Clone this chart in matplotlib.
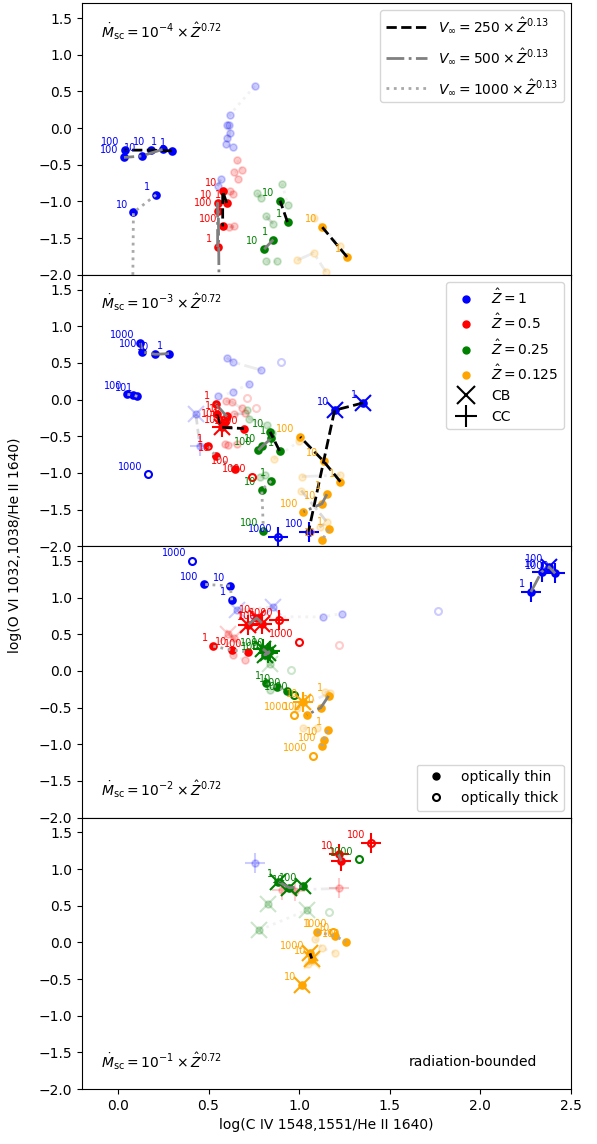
import matplotlib
matplotlib.use('Agg')
import matplotlib.pyplot as plt
from matplotlib.lines import Line2D

z_colors = ['blue', 'red', 'green', 'orange']
z_labels = ['1', '0.5', '0.25', '0.125']
vinf = [250, 500, 1000]
mdot_exp = [-4, -3, -2, -1]
xticks = [0.0, 0.5, 1.0, 1.5, 2.0, 2.5]
yticks = [-2.0, -1.5, -1.0, -0.5, 0.0, 0.5, 1.0, 1.5]

# series: (Z index, V index, faded, [(x, y, label, kind)])
# kind: f = optically thin, e = optically thick, x = CB, + = CC
m4 = [
    (0, 0, 0, [(0.297, -0.31, '1', 'f'), (0.181, -0.30, '10', 'f'), (0.037, -0.30, '100', 'f')]),
    (0, 1, 0, [(0.246, -0.29, '1', 'f'), (0.13, -0.38, '10', 'f'), (0.033, -0.40, '100', 'f')]),
    (0, 2, 0, [(0.21, -0.91, '1', 'f'), (0.085, -1.15, '10', 'f'), (0.08, -2.6, '100', 'f')]),
    (1, 0, 0, [(0.60, -1.02, '1', 'f'), (0.578, -0.86, '10', 'f'), (0.578, -1.34, '100', 'f')]),
    (1, 1, 0, [(0.55, -1.62, '1', 'f'), (0.55, -1.02, '10', 'f'), (0.554, -1.13, '100', 'f'),
               (0.56, -2.6, '1000', 'f')]),
    (2, 0, 0, [(0.936, -1.28, '1', 'f'), (0.895, -0.99, '10', 'f')]),
    (2, 1, 0, [(0.858, -1.52, '1', 'f'), (0.807, -1.65, '10', 'f')]),
    (3, 0, 0, [(1.265, -1.756, '1', 'f'), (1.128, -1.35, '10', 'f')]),
    (0, 2, 1, [(0.755, 0.573, '', 'f'), (0.618, 0.184, '', 'f'), (0.60, 0.047, '', 'f'),
               (0.604, -0.13, '', 'f')]),
    (0, 1, 1, [(0.615, 0.047, '', 'f'), (0.618, -0.067, '', 'f'), (0.596, -0.22, '', 'f'),
               (0.637, -0.258, '', 'f')]),
    (0, 0, 1, [(0.567, -0.70, '', 'f'), (0.55, -0.79, '', 'f')]),
    (1, 2, 1, [(0.659, -0.439, '', 'f'), (0.683, -0.566, '', 'f'), (0.64, -0.60, '', 'f'),
               (0.665, -0.69, '', 'f')]),
    (1, 1, 1, [(0.633, -0.893, '', 'f'), (0.618, -0.86, '', 'f')]),
    (1, 0, 1, [(0.615, -1.35, '', 'f'), (0.642, -1.34, '', 'f')]),
    (2, 2, 1, [(0.906, -0.756, '', 'f'), (0.938, -1.05, '', 'f')]),
    (2, 1, 1, [(0.766, -0.884, '', 'f'), (0.79, -0.95, '', 'f')]),
    (2, 0, 1, [(0.818, -1.20, '', 'f'), (0.858, -1.31, '', 'f')]),
    (2, 2, 1, [(0.818, -1.81, '', 'f'), (0.88, -1.81, '', 'f')]),
    (3, 2, 1, [(1.084, -1.22, '', 'f'), (1.224, -1.60, '', 'f')]),
    (3, 1, 1, [(0.991, -1.80, '', 'f'), (1.08, -1.70, '', 'f'), (1.148, -1.96, '', 'f')]),
]

m3 = [
    (0, 1, 0, [(0.282, 0.626, '1', 'f'), (0.205, 0.617, '10', 'f'), (0.135, 0.648, '100', 'f'),
               (0.124, 0.771, '1000', 'f')]),
    (0, 2, 0, [(0.107, 0.045, '1', 'f'), (0.083, 0.058, '10', 'f'), (0.052, 0.072, '100', 'f'),
               (0.163, -1.02, '1000', 'e')]),
    (0, 0, 0, [(1.353, -0.046, '1', 'fx'), (1.196, -0.146, '10', 'fx'), (1.052, -1.80, '100', 'f+'),
               (0.886, -1.87, '1000', 'e+')]),
    (1, 0, 0, [(0.545, -0.20, '1', 'f'), (0.572, -0.38, '10', 'fx+'), (0.696, -0.395, '1000', 'f')]),
    (1, 1, 0, [(0.539, -0.055, '1', 'f'), (0.60, -0.23, '10', 'f'), (0.59, -0.30, '100', 'f')]),
    (1, 2, 0, [(0.498, -0.64, '1', 'f'), (0.539, -0.77, '10', 'f'), (0.646, -0.94, '100', 'f'),
               (0.739, -1.05, '1000', 'e')]),
    (2, 0, 0, [(0.892, -0.70, '1', 'f'), (0.84, -0.44, '10', 'f')]),
    (2, 1, 0, [(0.846, -0.53, '1', 'f'), (0.795, -0.64, '10', 'f'), (0.775, -0.69, '100', 'f')]),
    (2, 2, 0, [(0.846, -1.11, '1', 'f'), (0.794, -1.23, '10', 'f'), (0.803, -1.79, '100', 'f')]),
    (3, 0, 0, [(1.228, -1.12, '1', 'f'), (1.135, -0.84, '10', 'f'), (1.006, -0.51, '100', 'f')]),
    (3, 1, 0, [(1.154, -1.29, '1', 'f'), (1.126, -1.42, '10', 'f'), (1.024, -1.53, '100', 'f')]),
    (3, 2, 0, [(1.163, -1.77, '1', 'f'), (1.126, -1.92, '10', 'f')]),
    (0, 1, 1, [(0.90, 0.51, '', 'e'), (0.792, 0.40, '', 'f'), (0.633, 0.512, '', 'f'), (0.60, 0.572, '', 'f')]),
    (0, 2, 1, [(0.725, 0.218, '', 'f'), (0.633, 0.10, '', 'f'), (0.554, 0.044, '', 'f')]),
    (0, 0, 1, [(0.43, -0.20, '', 'fx'), (0.452, -0.64, '', 'f+')]),
    (1, 1, 1, [(0.595, -0.023, '', 'f'), (0.628, -0.033, '', 'f'), (0.683, -0.12, '', 'f'),
               (0.711, 0.027, '', 'e')]),
    (1, 0, 1, [(0.64, -0.20, '', 'f'), (0.70, -0.19, '', 'f'), (0.761, -0.11, '', 'e')]),
    (1, 2, 1, [(0.59, -0.60, '', 'f'), (0.656, -0.60, '', 'f'), (0.61, -0.62, '', 'f')]),
    (2, 1, 1, [(0.711, -0.146, '', 'f'), (0.725, -0.26, '', 'f'), (0.825, -0.35, '', 'f'),
               (0.85, -0.46, '', 'f')]),
    (2, 2, 1, [(0.785, -1.05, '', 'f'), (0.81, -1.03, '', 'f')]),
    (3, 2, 1, [(0.86, -0.81, '', 'f'), (1.0, -0.57, '', 'f')]),
    (3, 1, 1, [(1.015, -1.05, '', 'f'), (1.228, -1.03, '', 'f')]),
    (3, 0, 1, [(1.012, -1.24, '', 'f'), (1.154, -1.67, '', 'f'), (1.113, -1.74, '', 'f')]),
]

m2 = [
    (0, 2, 0, [(0.628, 0.964, '1', 'f'), (0.62, 1.16, '10', 'f'), (0.476, 1.18, '100', 'f'),
               (0.406, 1.496, '1000', 'e')]),
    (0, 1, 0, [(2.28, 1.078, '1', 'f+'), (2.339, 1.35, '10', 'f+'), (2.38, 1.42, '100', 'fx'),
               (2.414, 1.33, '1000', 'f+')]),
    (1, 1, 0, [(0.72, 0.633, '1', 'fx+'), (0.766, 0.723, '10', 'fx'), (0.797, 0.647, '100', 'fx+'),
               (0.89, 0.69, '1000', 'e+')]),
    (1, 2, 0, [(0.526, 0.338, '1', 'f'), (0.631, 0.283, '10', 'f'), (0.716, 0.26, '100', 'f'),
               (1.0, 0.396, '1000', 'e')]),
    (2, 1, 0, [(0.80, 0.30, '1', 'fx+'), (0.83, 0.24, '10', 'fx+'), (0.81, 0.22, '100', 'fx'),
               (0.84, 0.27, '1000', 'f+')]),
    (2, 2, 0, [(0.818, -0.17, '1', 'f'), (0.877, -0.22, '10', 'f'), (0.932, -0.27, '100', 'f'),
               (0.973, -0.33, '1000', 'e')]),
    (3, 1, 0, [(1.163, -0.34, '1', 'f'), (1.12, -0.50, '10', 'f'), (1.043, -0.60, '100', 'f'),
               (0.973, -0.60, '1000', 'e')]),
    (3, 0, 0, [(1.024, -0.42, '10', 'fx+')]),
    (3, 2, 0, [(1.157, -0.807, '1', 'f'), (1.135, -0.94, '10', 'f'), (1.126, -1.025, '100', 'f'),
               (1.076, -1.16, '1000', 'e')]),
    (0, 1, 1, [(0.655, 0.83, '', 'fx'), (0.858, 0.873, '', 'fx')]),
    (0, 2, 1, [(0.75, 0.74, '', 'f'), (1.13, 0.737, '', 'f'), (1.237, 0.783, '', 'f'), (1.766, 0.818, '', 'e')]),
    (1, 1, 1, [(0.61, 0.51, '', 'fx'), (0.64, 0.45, '', 'fx')]),
    (1, 2, 1, [(0.637, 0.215, '', 'f'), (0.70, 0.147, '', 'f'), (1.222, 0.36, '', 'e')]),
    (2, 1, 1, [(0.84, 0.10, '', 'fx'), (0.955, 0.01, '', 'e')]),
    (2, 2, 1, [(0.84, -0.26, '', 'f')]),
    (3, 1, 1, [(1.141, -0.285, '', 'f'), (1.17, -0.30, '', 'f'), (0.99, -0.50, '', 'f')]),
    (3, 2, 1, [(1.024, -0.78, '', 'f'), (1.10, -0.78, '', 'f')]),
]

m1 = [
    (1, 1, 0, [(1.233, 1.11, '1', 'f+'), (1.218, 1.203, '10', 'f+'), (1.397, 1.36, '100', 'e+')]),
    (2, 1, 0, [(0.886, 0.826, '1', 'fx'), (0.947, 0.744, '10', 'fx'), (1.019, 0.767, '100', 'fx'),
               (1.333, 1.13, '1000', 'e')]),
    (3, 2, 0, [(1.098, 0.144, '1', 'f'), (1.20, 0.086, '10', 'f'), (1.259, 0.008, '100', 'f'),
               (1.187, 0.144, '1000', 'e')]),
    (3, 1, 0, [(1.015, -0.582, '10', 'fx')]),
    (3, 0, 0, [(1.07, -0.22, '10', 'fx'), (1.06, -0.15, '1000', 'fx')]),
    (0, 1, 1, [(0.757, 1.084, '', 'f+')]),
    (1, 1, 1, [(1.218, 0.735, '', 'f+'), (0.905, 0.712, '', 'f+'), (0.98, 0.70, '', 'f+')]),
    (2, 2, 1, [(0.781, 0.167, '', 'fx'), (1.043, 0.44, '', 'fx')]),
    (2, 1, 1, [(0.827, 0.518, '', 'fx'), (1.167, 0.417, '', 'e')]),
    (3, 2, 1, [(1.09, 0.05, '', 'f'), (1.126, -0.08, '', 'f'), (1.20, -0.14, '', 'f')]),
    (3, 0, 1, [(1.07, -0.25, '', 'fx'), (1.05, -0.30, '', 'f')]),
]

panels = [m4, m3, m2, m1]
vstyle = [('k', '--'), ('gray', '-.'), ('darkgray', ':')]

fig, axes = plt.subplots(4, 1, sharex=True, figsize=(5.97, 11.44), dpi=100)
fig.subplots_adjust(left=0.137, right=0.956, top=0.997, bottom=0.048, hspace=0)

for ax, series in zip(axes, panels):
    for zi, vi, faded, pts in series:
        c = z_colors[zi]
        a = 0.2 if faded else 1.0
        lc, ls = vstyle[vi]
        thin = [p for p in pts if 'f' in p[3]]
        if len(thin) > 1:
            ax.plot([p[0] for p in thin], [p[1] for p in thin], color=lc, ls=ls, lw=2,
                    alpha=0.15 if faded else 1.0, zorder=1 if faded else 4)
        for x, y, lab, kind in pts:
            zo = 1 if faded else 3
            if 'x' in kind:
                ax.plot(x, y, marker='x', ms=11, mew=1.5, color=c, alpha=a, ls='none', zorder=zo)
            if '+' in kind:
                ax.plot(x, y, marker='+', ms=14, mew=1.5, color=c, alpha=a, ls='none', zorder=zo)
            if 'e' in kind:
                ax.plot(x, y, marker='o', ms=5, mew=1.5, mfc='none', mec=c, alpha=a, ls='none', zorder=zo)
            else:
                ax.plot(x, y, marker='o', ms=5, mew=1.2, mfc=c, mec=c, alpha=a, ls='none', zorder=zo)
            if lab:
                ax.annotate(lab, (x, y), xytext=(-4, 2), textcoords='offset points',
                            ha='right', va='bottom', fontsize=7, color=c, zorder=5)
    ax.set_xlim(-0.2, 2.5)
    ax.set_ylim(-2.0, 1.7)
    ax.set_yticks(yticks)
    ax.set_xticks(xticks)

for i, ax in enumerate(axes):
    txt = r'$\dot{M}_{\rm sc} = 10^{%d} \times \hat{Z}^{0.72}$' % mdot_exp[i]
    ypos = 0.875 if i < 2 else 0.08
    ax.text(0.04, ypos, txt, transform=ax.transAxes, fontsize=10)

axes[3].text(0.8, 0.1, 'radiation-bounded', transform=axes[3].transAxes, fontsize=10,
             ha='center', va='center')

h1 = [Line2D([], [], color=lc, ls=ls, lw=2) for lc, ls in vstyle]
l1 = [r'$V_\infty = %d \times \hat{Z}^{0.13}$' % v for v in vinf]
axes[0].legend(h1, l1, loc='upper right', fontsize=10, handlelength=3, labelspacing=0.8)

h2 = [Line2D([], [], marker='o', ms=5, color=c, ls='none') for c in z_colors]
h2 += [Line2D([], [], marker='x', ms=13, mew=1.5, color='k', ls='none'),
       Line2D([], [], marker='+', ms=16, mew=1.5, color='k', ls='none')]
l2 = [r'$\hat{Z} = %s$' % z for z in z_labels] + ['CB', 'CC']
axes[1].legend(h2, l2, loc='upper right', fontsize=10, labelspacing=0.45)

h3 = [Line2D([], [], marker='o', ms=5, color='k', ls='none'),
      Line2D([], [], marker='o', ms=5, mew=1.5, mfc='none', mec='k', ls='none')]
axes[2].legend(h3, ['optically thin', 'optically thick'], loc='lower right', fontsize=10)

axes[3].set_xlabel('log(C IV 1548,1551/He II 1640)')
fig.text(0.025, 0.523, 'log(O VI 1032,1038/He II 1640)', rotation=90, ha='center', va='center',
         fontsize=10)

fig.savefig('out.png')
